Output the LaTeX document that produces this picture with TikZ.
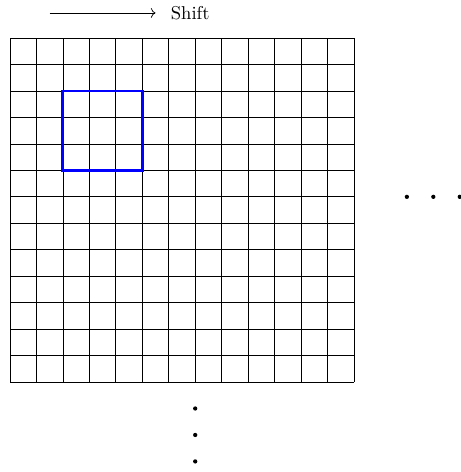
\documentclass[tikz,border=0pt]{standalone}
\usepackage{amsmath,amssymb}
\usepackage{xcolor}
\usepackage{tikz}
\usetikzlibrary{arrows.meta,positioning,calc}

\begin{document}
\begin{tikzpicture}[x=0.5cm,y=0.5cm,
    gdot/.style={circle,fill=black,inner sep=0pt,minimum size=2.3pt}]
  \useasboundingbox (-0.378,-3.40) rectangle (17.04,14.44);
  % 13x13 input grid, one cell = 1 unit
  \foreach \k in {0,...,13} {
    \draw[thin] (\k,0) -- (\k,13);
    \draw[thin] (0,\k) -- (13,\k);
  }
  \draw[blue,ultra thick] (2,8) rectangle (5,11);   % 3x3 window
  % shift direction
  \coordinate (a0) at (1.5,13.95);
  \coordinate (a1) at (5.5,13.95);
  \node[right=4.7pt of a1] (shift) {Shift};
  \draw[->] (a0) -- (a1);
  % continuation dots, right and below
  \foreach \i in {1,2,3} {
    \node[gdot] (r\i) at (14+\i,7) {};
    \node[gdot] (b\i) at (7,-\i) {};
  }
\end{tikzpicture}
\end{document}
